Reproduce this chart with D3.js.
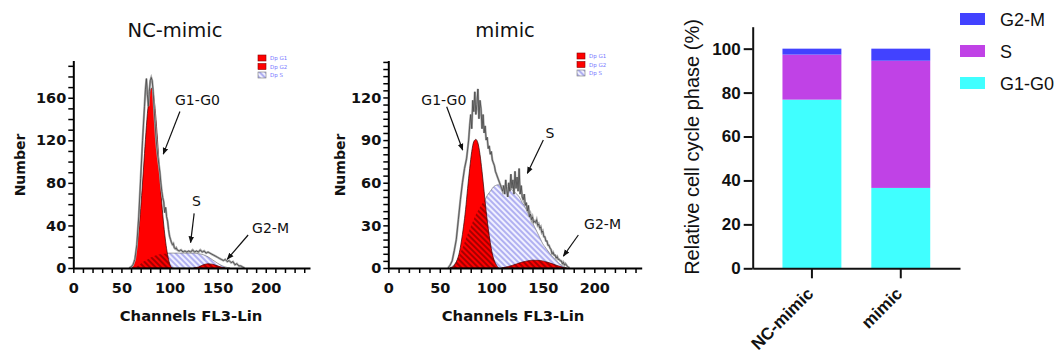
<!DOCTYPE html>
<html>
<head>
<meta charset="utf-8">
<script src="https://cdn.jsdelivr.net/npm/d3@7"></script>
<style>
  body { margin: 0; background: #fff; }
  svg { display: block; }
</style>
</head>
<body>
<svg id="fig" width="1060" height="354"></svg>
<script>
// ---- flow histograms: [channel, count] ----
const ncRaw = [[58,0],[60,1],[62,3],[64,8],[66,22],[68,48],[70,84],[72,120],[74,152],[75,168],[76,178],[77,163],[78,152],[79,166],[80,176],[81,179],[82,176],[83,166],[84,150],[85,136],[86,122],[87,112],[88,104],[89,97],[90,90],[91,80],[92,72],[93,66],[94,62],[95,52],[96,57],[97,48],[98,44],[99,36],[100,30],[101,27],[102,24],[103,22],[104,23],[105,19],[106,18],[107,19],[108,17],[110,16],[112,17],[114,15],[116,16],[118,15],[120,16],[122,15],[124,17],[126,15],[128,16],[130,15],[132,17],[134,15],[136,16],[138,14],[140,15],[142,14],[144,13],[146,12],[148,11],[150,10],[152,9],[154,8],[156,7],[158,8],[160,6],[162,7],[164,5],[166,6],[168,3],[170,4],[172,2],[174,2],[176,1],[178,0]];
const ncG1 = [[61,0],[63,6],[65,14],[67,26],[69,45],[71,68],[73,94],[75,121],[77,145],[79,161],[81,169],[83,165],[85,150],[87,127],[89,100],[91,73],[93,50],[95,32],[97,18],[99,8],[101,2],[103,0]];
const ncS = [[62,0],[66,1.5],[70,4],[74,6.5],[78,8.5],[82,10.5],[86,12],[90,13],[95,13.5],[100,14],[105,14],[110,14],[115,14],[120,14],[125,14],[130,13.5],[135,12.5],[140,10.5],[145,7.5],[150,4.5],[155,2],[160,0.5],[163,0]];
const ncG2 = [[125,0],[130,1],[135,3],[140,4],[145,3.5],[150,2],[155,0.5],[158,0]];

const miRaw = [[58,0],[60,2],[62,5],[64,12],[66,20],[68,34],[70,48],[72,60],[74,70],[76,77],[78,90],[79,100],[80,108],[81,98],[82,118],[83,110],[84,124],[85,108],[86,115],[87,126],[88,105],[89,118],[90,112],[91,98],[92,108],[93,95],[94,100],[95,90],[96,92],[97,84],[98,86],[99,80],[100,82],[101,76],[102,74],[103,72],[104,68],[105,66],[106,64],[107,62],[108,60],[109,58],[110,56],[111,54],[112,58],[113,52],[114,62],[115,55],[116,50],[117,60],[118,54],[119,66],[120,56],[121,62],[122,52],[123,68],[124,56],[125,64],[126,54],[127,70],[128,52],[129,58],[130,50],[131,48],[132,52],[133,44],[134,46],[135,40],[136,44],[137,36],[138,38],[139,34],[140,36],[141,32],[142,33],[143,32],[144,34],[145,30],[146,31],[147,28],[148,29],[149,25],[150,26],[151,22],[152,22],[153,19],[154,19],[155,16],[156,16],[157,14],[158,13],[159,10],[160,11],[161,9],[162,9],[163,7],[164,8],[165,6],[166,6],[167,5],[168,5],[169,3],[170,4],[171,2],[172,3],[174,1],[176,0]];
const miG1 = [[60,0],[63,1],[65,3],[67,6],[69,11],[71,19],[73,29],[75,41],[77,56],[79,70],[81,82],[83,89],[85,90.5],[87,88],[89,80],[91,68],[93,54],[95,40],[97,28],[99,18],[101,10],[103,5],[105,2],[107,0]];
const miS = [[60,0],[62,1],[64,2.5],[66,4],[68,7],[70,10.5],[72,14],[74,18],[76,22],[78,25.5],[80,29],[82,32.5],[84,36],[86,39],[88,41.5],[90,44],[92,46],[94,48],[96,51],[98,53],[100,55],[102,57],[104,58],[106,58.5],[108,58.5],[110,58],[112,57.5],[114,57],[116,56.5],[118,56],[120,55],[122,54],[124,52.5],[126,51],[128,49],[130,46],[132,44],[134,41],[136,38],[138,35],[140,32],[142,29],[144,26],[146,23],[148,20],[150,17],[152,15],[154,13],[156,11],[158,9],[160,7.5],[162,6],[164,4.5],[166,3],[168,2],[170,1],[172,0.3],[174,0]];
const miG2 = [[110,0],[115,0.8],[120,1.8],[125,3],[130,4.2],[135,5],[140,5.5],[145,5.4],[150,5],[155,4],[160,2.8],[165,1.5],[170,0.4],[173,0]];

// annotations: label, text [ch, count], arrow tail, arrow tip
const ncNotes = [["G1-G0",[129,153],[110.8,147],[93.5,107]], ["S",[128,58],[125.6,51.4],[121.9,23.8]], ["G2-M",[205,33],[181.7,31],[160,8.2]]];
const miNotes = [["G1-G0",[53.9,114.6],[56.7,113.4],[72.2,83]], ["S",[157,91.4],[150.5,90],[135,66.6]], ["G2-M",[208,27.4],[184.5,23.2],[170,8.4]]];

const xMajor = [0, 50, 100, 150, 200];
const ncYMajor = [0, 40, 80, 120, 160];
const miYMajor = [0, 30, 60, 90, 120];
const fitLegend = ["Dp G1", "Dp G2", "Dp S"];

// ---- stacked bars (%) ----
const groups = ["NC-mimic", "mimic"];
const phases = ["G1-G0", "S", "G2-M"];
const g1g0 = [76.8, 36.6];
const sPhase = [20.5, 57.9];
const g2m = [2.7, 5.5];
const barTicks = [0, 20, 40, 60, 80, 100];
const phaseColors = ["#40ffff", "#c042e6", "#4242ff"];

const svg = d3.select("#fig");
const defs = svg.append("defs");
const HFONT = "'DejaVu Sans', sans-serif";
const BFONT = "'Liberation Sans', Arial, sans-serif";

// hatch patterns
const hp = defs.append("pattern").attr("id", "hatchS").attr("patternUnits", "userSpaceOnUse")
  .attr("width", 4).attr("height", 4).attr("patternTransform", "rotate(-45)");
hp.append("rect").attr("width", 4).attr("height", 4).attr("fill", "#f0f0ff");
hp.append("line").attr("x1", 1).attr("y1", 0).attr("x2", 1).attr("y2", 4).attr("stroke", "#7c7ce6").attr("stroke-width", 1.1);
const hd = defs.append("pattern").attr("id", "hatchD").attr("patternUnits", "userSpaceOnUse")
  .attr("width", 4).attr("height", 4).attr("patternTransform", "rotate(-45)");
hd.append("line").attr("x1", 1).attr("y1", 0).attr("x2", 1).attr("y2", 4).attr("stroke", "#5a0000").attr("stroke-width", 1.1);
defs.append("marker").attr("id", "arr").attr("viewBox", "0 0 10 10").attr("refX", 9).attr("refY", 5)
  .attr("markerWidth", 7).attr("markerHeight", 7).attr("markerUnits", "userSpaceOnUse").attr("orient", "auto")
  .append("path").attr("d", "M0,1 L10,5 L0,9 Z").attr("fill", "#111");

function histogram(o) {
  const x = d3.scaleLinear().domain([0, 246]).range([o.left, o.right]);
  const y = d3.scaleLinear().domain([0, o.yMax]).range([268, 60.5]);
  const g = svg.append("g");
  const area = d3.area().x(d => x(d[0])).y0(y(0)).y1(d => y(d[1])).curve(d3.curveMonotoneX);
  const line = d3.line().x(d => x(d[0])).y(d => y(d[1]));

  g.append("path").attr("d", area(o.s)).attr("fill", "url(#hatchS)").attr("stroke", "#666").attr("stroke-width", 0.6);
  g.append("path").attr("d", area(o.g1)).attr("fill", "#ff0000").attr("stroke", "#300").attr("stroke-width", 0.7);
  g.append("path").attr("d", area(o.g2)).attr("fill", "#ff0000").attr("stroke", "#300").attr("stroke-width", 0.6);
  const cp = defs.append("clipPath").attr("id", "clip" + o.id);
  cp.append("path").attr("d", area(o.g1));
  cp.append("path").attr("d", area(o.g2));
  g.append("path").attr("d", area(o.s)).attr("fill", "url(#hatchD)").attr("clip-path", `url(#clip${o.id})`);

  g.append("path").attr("d", line(o.raw)).attr("fill", "none").attr("stroke", "#a8a8a8").attr("stroke-width", 2.2);
  g.append("path").attr("d", line(o.raw)).attr("fill", "none").attr("stroke", "#454545").attr("stroke-width", 0.8);

  // axes
  const xa = g.append("g").attr("transform", "translate(0,268)")
    .call(d3.axisBottom(x).tickValues(d3.range(0, 241, 10)).tickSize(5).tickSizeOuter(0).tickPadding(10)
      .tickFormat(d => xMajor.includes(d) ? d : ""));
  const ya = g.append("g").attr("transform", `translate(${o.left},0)`)
    .call(d3.axisLeft(y).tickValues(d3.range(0, o.yMax, o.yMinor)).tickSize(5).tickSizeOuter(0).tickPadding(2)
      .tickFormat(d => o.yMajor.includes(d) ? d : ""));
  [xa, ya].forEach(a => {
    a.select(".domain").attr("stroke", "#000").attr("stroke-width", 2);
    a.selectAll(".tick line").attr("stroke", "#000").attr("stroke-width", 1.5);
    a.selectAll("text").attr("font-family", HFONT).attr("font-weight", "bold").attr("font-size", 14.5).attr("fill", "#111");
  });

  svg.append("text").attr("x", o.titleX).attr("y", 37).attr("text-anchor", "middle")
    .attr("font-family", HFONT).attr("font-size", 19.5).attr("fill", "#111").text(o.title);
  svg.append("text").attr("transform", `translate(${o.ylabX},165) rotate(-90)`).attr("text-anchor", "middle")
    .attr("dominant-baseline", "central").attr("font-family", HFONT).attr("font-weight", "bold")
    .attr("font-size", 14).attr("fill", "#111").text("Number");
  svg.append("text").attr("x", o.xlabX).attr("y", 321).attr("text-anchor", "middle")
    .attr("font-family", HFONT).attr("font-weight", "bold").attr("font-size", 14.8).attr("fill", "#111")
    .text("Channels FL3-Lin");

  // annotations
  o.notes.forEach(([lab, t, a, b]) => {
    svg.append("text").attr("x", x(t[0])).attr("y", y(t[1])).attr("text-anchor", "middle")
      .attr("font-family", HFONT).attr("font-size", 14).attr("fill", "#111").text(lab);
    svg.append("line").attr("x1", x(a[0])).attr("y1", y(a[1])).attr("x2", x(b[0])).attr("y2", y(b[1]))
      .attr("stroke", "#111").attr("stroke-width", 1.2).attr("marker-end", "url(#arr)");
  });

  // fit legend
  const lg = svg.append("g").attr("transform", `translate(${o.legX},${o.legY})`);
  fitLegend.forEach((lab, i) => {
    lg.append("rect").attr("x", 0).attr("y", i * 8.5).attr("width", 8).attr("height", 6)
      .attr("fill", i < 2 ? "#ff0000" : "url(#hatchS)").attr("stroke", i < 2 ? "#800" : "#777").attr("stroke-width", 0.6);
    lg.append("text").attr("x", 12).attr("y", i * 8.5 + 3).attr("dominant-baseline", "central")
      .attr("font-family", HFONT).attr("font-size", 5.5).attr("fill", "#7878ff").text(lab);
  });
}

histogram({ id: "nc", title: "NC-mimic", titleX: 175, left: 73.3, right: 310, yMax: 195, yMinor: 10, yMajor: ncYMajor,
  raw: ncRaw, g1: ncG1, s: ncS, g2: ncG2, notes: ncNotes, ylabX: 20, xlabX: 191, legX: 258, legY: 55 });
histogram({ id: "mi", title: "mimic", titleX: 505, left: 388.3, right: 641.7, yMax: 146, yMinor: 5, yMajor: miYMajor,
  raw: miRaw, g1: miG1, s: miS, g2: miG2, notes: miNotes, ylabX: 340, xlabX: 513, legX: 577, legY: 53 });

// ---- stacked bar chart ----
const table = groups.map((gname, i) => ({ group: gname, "G1-G0": g1g0[i], "S": sPhase[i], "G2-M": g2m[i] }));
const stack = d3.stack().keys(phases)(table);
const bx = d3.scaleBand().domain(groups).range([752.7, 960]).paddingInner(0.337).paddingOuter(0.335);
const by = d3.scaleLinear().domain([0, 110]).range([268.3, 26.7]);
const color = d3.scaleOrdinal().domain(phases).range(phaseColors);

const bars = svg.append("g");
stack.forEach(layer => {
  bars.selectAll(null).data(layer).enter().append("rect")
    .attr("x", d => bx(d.data.group)).attr("width", bx.bandwidth())
    .attr("y", d => by(d[1])).attr("height", d => by(d[0]) - by(d[1]))
    .attr("fill", color(layer.key));
});

const bya = svg.append("g").attr("transform", "translate(752.7,0)")
  .call(d3.axisLeft(by).tickValues(barTicks).tickSize(9).tickSizeOuter(0).tickPadding(3));
const bxa = svg.append("g").attr("transform", "translate(0,268.3)")
  .call(d3.axisBottom(bx).tickSize(10).tickSizeOuter(0).tickFormat(""));
[bya, bxa].forEach(a => {
  a.select(".domain").attr("stroke", "#111").attr("stroke-width", 2);
  a.selectAll(".tick line").attr("stroke", "#111").attr("stroke-width", 2);
});
bya.selectAll("text").attr("font-family", BFONT).attr("font-weight", "bold").attr("font-size", 17).attr("fill", "#111");
bxa.selectAll(".tick").append("text")
  .attr("transform", "translate(-6,18) rotate(-45)").attr("text-anchor", "end").attr("dy", "0.7em")
  .attr("font-family", BFONT).attr("font-weight", "bold").attr("font-size", 17).attr("fill", "#111")
  .text(d => d);

svg.append("text").attr("transform", "translate(692,147) rotate(-90)").attr("text-anchor", "middle")
  .attr("dominant-baseline", "central").attr("font-family", BFONT).attr("font-size", 20).attr("fill", "#111")
  .text("Relative cell cycle phase (%)");

const leg = svg.append("g");
phases.slice().reverse().forEach((p, i) => {
  leg.append("rect").attr("x", 960).attr("y", 13 + i * 32).attr("width", 25).attr("height", 12).attr("fill", color(p));
  leg.append("text").attr("x", 1000).attr("y", 19.5 + i * 32).attr("dominant-baseline", "central")
    .attr("font-family", BFONT).attr("font-size", 18).attr("fill", "#111").text(p);
});
</script>
</body>
</html>
